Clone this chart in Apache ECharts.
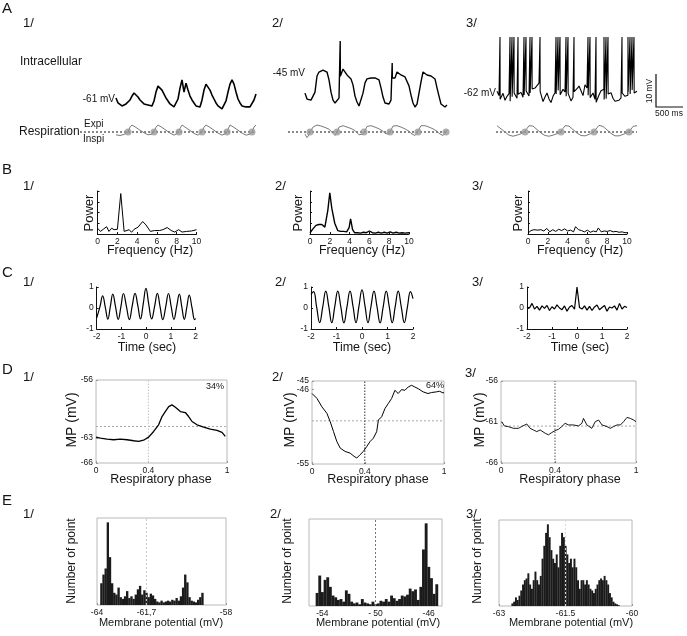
<!DOCTYPE html>
<html><head><meta charset="utf-8">
<script src="https://cdn.jsdelivr.net/npm/echarts@6.0.0/dist/echarts.min.js"></script>
<style>html,body{margin:0;padding:0;background:#fff}#c{width:687px;height:636px}</style>
</head><body><div id="c"></div>
<script>
// ===== DATA =====
// Row A: intracellular traces (mV), one sample per ~37 ms
const a1Trace = [-61.0,-62.5,-63.1,-63.4,-63.1,-62.8,-62.5,-61.6,-60.4,-59.5,
 -59.2,-60.7,-61.6,-62.2,-62.8,-63.4,-63.1,-63.7,-63.4,-61.9,
 -59.2,-57.4,-57.7,-58.6,-59.8,-61.0,-61.9,-62.8,-63.4,-63.7,
 -63.1,-61.3,-58.0,-55.5,-59.2,-56.5,-58.6,-60.4,-61.6,-62.5,
 -63.4,-64.0,-63.7,-61.6,-58.6,-56.8,-57.4,-58.6,-60.1,-61.3,
 -62.5,-63.4,-64.0,-64.3,-63.7,-61.9,-59.2,-56.8,-55.5,-56.8,
 -59.2,-61.3,-62.5,-63.4,-64.0,-63.7,-64.0,-63.7,-63.1,-61.6,
 -59.8];
const a2Trace = [-51.1,-52.9,-53.5,-53.2,-53.5,-50.8,-45.9,-44.7,-45.0,-44.1,
 -43.5,-44.7,-47.1,-50.8,-53.2,-54.1,-54.7,-52.6,-46.0,-43.8,
 -43.2,-45.6,-46.2,-46.8,-48.6,-52.0,-53.8,-55.0,-54.7,-51.1,
 -48.0,-46.8,-46.2,-46.5,-45.9,-46.5,-46.8,-47.1,-49.5,-52.3,
 -54.1,-54.7,-54.4,-53.2,-46.5,-46.5,-44.7,-45.3,-45.6,-45.9,
 -46.2,-46.8,-48.9,-51.7,-54.1,-55.3,-54.4,-51.1,-47.7,-44.7,
 -45.3,-45.6,-46.2,-45.9,-46.5,-46.8,-49.5,-52.0,-54.4,-55.0,
 -55.3,-54.7];
const a2SpikeTimes = [17.6, 43.6];
const a2SpikePeaks = [-35.3, -42.0];
const a3Trace = [-61.5,-62.8,-63.9,-62.1,-64.2,-63.0,-62.2,-64.5,-63.1,-62.0,
 -63.6,-62.4,-61.8,-63.3,-62.6,-61.4,-62.9,-62.0,-60.8,-60.5,
 -60.5,-59.0,-61.5,-64.6,-63.2,-62.0,-63.8,-64.9,-63.0,-61.9,
 -62.3,-61.2,-62.5,-60.9,-61.7,-63.0,-62.1,-64.4,-63.3,-61.6,
 -60.7,-59.9,-61.3,-62.8,-59.5,-60.5,-62.7,-63.4,-62.0,-63.9,
 -64.8,-62.6,-61.3,-60.9,-64.0,-63.7,-62.3,-61.9,-63.6,-64.5,
 -65.0,-64.2,-63.5,-62.0,-63.0,-62.7,-61.6,-62.3,-61.1,-62.0,
 -61.5];
const a3SpikeTimes = [1.5,6.5,7.5,8.5,10.5,13.5,14.5,16.5,17.5,21.5,29.5,30.5,31.5,34.5,35.5,38.5,45.5,46.5,49.5,53.5,54.5,55.5,62.5,65.5,66.5,67.5,68.5];
const a3SpikePeak = -45;
const aRefMv = [-61, -45, -62];
const aRefLabels = ['-61 mV', '-45 mV', '-62 mV'];

// Row A: respiration (arbitrary units, 0 = dotted line)
const resp1 = [-0.4,-0.45,-0.5,-0.45,-0.35,-0.2,0,0.7,1.0,0.85,
 0.65,0.45,0.25,0.1,-0.1,-0.25,-0.4,-0.45,-0.3,0,
 0.7,1.0,0.85,0.65,0.45,0.25,0.05,-0.15,-0.3,-0.45,
 -0.4,-0.15,0.5,1.0,0.8,0.6,0.4,0.2,0.0,-0.2,
 -0.35,-0.45,-0.35,0,0.7,1.0,0.85,0.65,0.45,0.25,
 0.05,-0.15,-0.3,-0.45,-0.45,-0.2,0.4,1.0,0.85,0.65,
 0.45,0.25,0.05,-0.15,-0.3,-0.45,-0.45,-0.3,0,0.7,
 1.0];
const resp2 = [-0.3,-0.8,-0.4,0.2,0.7,0.9,1.0,0.95,0.85,0.75,
 0.65,0.55,0.4,0.2,-0.2,-0.5,0,0.7,0.95,0.9,
 0.8,0.7,0.6,0.5,0.35,0.2,-0.1,-0.4,-0.5,-0.3,
 0.2,0.8,1.0,0.9,0.8,0.7,0.6,0.45,0.3,0.1,
 -0.2,-0.45,-0.3,0.3,0.85,1.0,0.9,0.8,0.7,0.6,
 0.45,0.3,0.1,-0.2,-0.45,-0.5,-0.2,0.4,0.9,1.0,
 0.9,0.8,0.7,0.6,0.45,0.3,0.1,-0.2,-0.45,-0.5,
 -0.2,0.3];
const resp3 = [0.9,0.7,0.45,0.2,0.0,-0.25,-0.45,-0.55,-0.6,-0.55,
 -0.45,-0.35,-0.25,-0.1,0.1,0.5,0.9,1.0,0.85,0.6,
 0.35,0.1,-0.15,-0.35,-0.5,-0.6,-0.6,-0.55,-0.45,-0.35,
 -0.25,-0.1,0.1,0.5,0.9,1.0,0.85,0.6,0.35,0.1,
 -0.15,-0.35,-0.5,-0.6,-0.55,-0.45,-0.35,-0.2,-0.05,0.2,
 0.6,0.95,1.0,0.8,0.55,0.3,0.05,-0.2,-0.4,-0.55,
 -0.6,-0.55,-0.45,-0.35,-0.25,-0.1,0.05,0.4,0.8,1.0,
 0.9];
const resp1Dots = [6, 19, 31.5, 43, 55.5, 68];
const resp2Dots = [2.5, 16, 29.5, 42.5, 56.5, 70.5];
const resp3Dots = [14, 32, 48.5, 66];

// Row B: power spectra
const b1Freq = [0,0.3,0.58,0.92,1.16,1.43,1.67,2.01,2.35,2.69,2.86,3.2,3.44,3.7,4.1,4.56,4.9,5.34,5.75,6.26,6.6,7.04,7.45,7.8,8.2,8.54,9.0,9.5,10.0];
const b1Power = [0.135,0.06,0.11,0.17,0.06,0.135,0.10,0.11,0.94,0.06,0.02,0.10,0.04,0.11,0.16,0.29,0.21,0.06,0.08,0.08,0.10,0.15,0.08,0.045,0.10,0.045,0.06,0.07,0.10];
const b2Freq = [0,0.3,0.6,0.9,1.2,1.5,1.8,2.0,2.2,2.5,2.8,3.1,3.4,3.7,3.95,4.1,4.3,4.5,4.8,5.1,5.4,5.7,6.0,6.3,6.6,6.9,7.2,7.5,7.8,8.1,8.4,8.7,9.0,9.3,9.6,10];
const b2Power = [0.03,0.12,0.2,0.22,0.22,0.16,0.55,0.96,0.6,0.25,0.08,0.06,0.06,0.05,0.15,0.35,0.1,0.03,0.03,0.02,0.04,0.03,0.07,0.03,0.02,0.04,0.02,0.04,0.02,0.05,0.02,0.04,0.02,0.03,0.02,0.03];
const b3Freq = [0,0.3,0.6,1.0,1.3,1.6,1.9,2.2,2.5,2.8,3.1,3.4,3.7,4.0,4.3,4.6,4.8,5.1,5.4,5.7,6.0,6.3,6.6,6.9,7.1,7.4,7.7,8.0,8.3,8.6,8.9,9.2,9.5,9.8,10];
const b3Power = [0.02,0.08,0.1,0.09,0.1,0.07,0.13,0.05,0.1,0.06,0.11,0.08,0.12,0.07,0.09,0.05,0.17,0.1,0.08,0.05,0.09,0.04,0.07,0.05,0.14,0.05,0.07,0.06,0.08,0.05,0.06,0.04,0.05,0.03,0.03];

// Row C: autocorrelograms
const c1Time = [-2.0,-1.87,-1.76,-1.65,-1.55,-1.45,-1.35,-1.24,-1.13,-1.02,-0.92,-0.80,-0.68,-0.57,-0.45,-0.34,-0.23,-0.12,-0.01,0.10,0.22,0.34,0.45,0.56,0.67,0.79,0.90,1.01,1.12,1.23,1.34,1.44,1.54,1.64,1.74,1.85,1.96,2.0];
const c1Val = [-0.47,0.05,0.58,0.02,-0.53,0.06,0.66,0.07,-0.54,0.08,0.69,0.08,-0.55,0.07,0.70,0.12,-0.52,0.20,0.93,0.20,-0.52,0.08,0.70,0.07,-0.55,0.07,0.69,0.06,-0.54,0.06,0.66,0.04,-0.54,0.03,0.61,0.02,-0.55,-0.5];
const c2Time = [-2.0,-1.90,-1.78,-1.66,-1.54,-1.42,-1.30,-1.185,-1.07,-0.95,-0.83,-0.71,-0.59,-0.47,-0.35,-0.235,-0.12,0,0.12,0.235,0.35,0.47,0.59,0.71,0.83,0.95,1.07,1.185,1.30,1.42,1.54,1.66,1.78,1.90,2.0];
const c2Val = [0.65,0.78,0.05,-0.70,0.05,0.80,0.05,-0.70,0.05,0.80,0.05,-0.71,0.05,0.80,0.06,-0.70,0.08,0.86,0.08,-0.70,0.06,0.80,0.05,-0.71,0.05,0.80,0.05,-0.70,0.05,0.80,0.05,-0.70,0.04,0.78,0.45];
const c3Start = -2, c3Step = 0.1;
const c3Val = [0.05,0.0,0.22,-0.05,0.08,-0.1,0.1,-0.02,0.12,-0.12,0.06,-0.05,0.15,0.0,-0.08,0.1,-0.15,0.05,0.12,-0.06,1.0,0.02,-0.05,0.1,-0.1,0.08,-0.12,0.05,0.14,-0.08,0.02,0.12,-0.15,0.05,0.0,0.1,-0.1,0.22,-0.05,0.08,0.02];

// Row D: membrane potential vs respiratory phase
const d1Phase = [0,0.033,0.084,0.135,0.186,0.237,0.288,0.326,0.369,0.402,0.44,0.478,0.504,0.529,0.555,0.58,0.606,0.644,0.682,0.707,0.733,0.771,0.822,0.873,0.924,0.962,0.987];
const d1Mp = [-62.88,-63.0,-63.12,-63.2,-63.12,-63.2,-63.32,-63.4,-63.2,-62.88,-62.2,-61.4,-60.4,-59.8,-59.2,-59.0,-59.28,-59.8,-59.92,-60.4,-61.0,-61.4,-61.68,-61.92,-62.08,-62.32,-62.8];
const d2Phase = [0,0.038,0.075,0.113,0.138,0.163,0.188,0.214,0.251,0.289,0.319,0.339,0.364,0.389,0.415,0.44,0.465,0.49,0.503,0.528,0.553,0.578,0.603,0.628,0.653,0.678,0.704,0.729,0.754,0.779,0.804,0.842,0.879,0.905,0.942,0.967,0.992,1.0];
const d2Mp = [-46.5,-47.11,-48.11,-48.9,-49.9,-51.1,-52.29,-53.09,-53.49,-53.69,-54.08,-54.28,-53.88,-53.49,-52.89,-52.29,-51.89,-51.1,-49.7,-49.3,-48.31,-47.71,-47.11,-46.12,-46.51,-46.04,-46.12,-45.72,-45.52,-45.72,-45.92,-46.31,-46.51,-46.39,-46.31,-46.24,-46.43,-46.4];
const d3Phase = [0.005,0.025,0.054,0.092,0.129,0.153,0.191,0.215,0.24,0.265,0.29,0.327,0.351,0.376,0.401,0.426,0.45,0.475,0.5,0.537,0.574,0.599,0.611,0.636,0.673,0.698,0.723,0.748,0.785,0.809,0.834,0.859,0.884,0.908,0.933,0.958,0.983,1.0];
const d3Mp = [-60.96,-61.48,-61.56,-61.77,-61.77,-61.56,-61.24,-61.77,-61.97,-62.17,-61.97,-62.37,-62.57,-62.29,-62.05,-61.89,-61.56,-61.16,-61.36,-61.36,-61.48,-61.16,-60.56,-61.36,-61.77,-60.96,-60.76,-61.36,-61.56,-61.77,-61.56,-61.36,-61.36,-60.96,-60.44,-60.56,-60.76,-60.96];
const dMeans = [-61.6, -49.8, -61.5];
const dPercent = ['34%', '64%'];
const dPhaseMark = 0.4;
const dRanges = [[-66,-56],[-55,-45],[-66,-56]];
const dYTicks = [[-66,-63,-56],[-55,-45],[-66,-61,-56]];
const dYExtraTicks = [[], [-46], []];
const dXTicks = [0, 0.4, 1];

// Row E: membrane potential histograms
const e1Start = -63.8, e1Bin = 0.1;
const e1Counts = [25,35,42,95,55,25,14,12,20,9, 7,10,16,8,10,7,12,18,22,12, 17,14,9,13,11,7,4,3,5,3, 4,5,4,6,5,8,5,10,20,35, 26,9,5,4,3,6,9,14];
const e2Start = -54.4, e2Bin = 0.2;
const e2Counts = [15,35,16,30,33,22,12,10,7,8, 5,18,14,5,3,4,2,8,4,3, 2,5,2,3,6,5,8,5,12,9, 6,8,12,11,13,20,17,19,7,22, 65,95,45,32,14,25];
const e3Start = -62.7, e3Bin = 0.04;
const e3Counts = [3,5,10,7,12,18,25,30,32,38, 25,20,30,40,30,25,35,55,70,85, 95,80,65,55,50,60,45,70,85,80, 70,60,50,55,45,55,45,30,20,30, 30,25,30,25,20,18,15,20,25,30, 32,30,35,30,25,15,10,5,3,2, 1];
const eMeans = [-61.7, -50, -61.5];
const eRanges = [[-64,-58],[-55,-45],[-63,-60]];
const eTicks = [[-64,-61.7,-58],[-54,-50,-46],[-63,-61.5,-60]];
const eTickText = [['-64','-61,7','-58'],['-54','- 50','-46'],['-63','-61.5','-60']];

// ===== BUILD =====
const FONT = '"Liberation Sans", Arial, Helvetica, sans-serif';
const INK = '#151515';
const grids = [], xAxes = [], yAxes = [], series = [], gfx = [];

// returns {g, x, y}: indices of the grid and of its axes
function addGrid(rect, xa, ya) {
  const ax = {g: grids.length, x: xAxes.length, y: yAxes.length};
  grids.push(Object.assign({containLabel: false}, rect));
  xAxes.push(Object.assign({gridIndex: ax.g, splitLine: {show: false}}, xa));
  yAxes.push(Object.assign({gridIndex: ax.g, splitLine: {show: false}}, ya));
  return ax;
}
function line(ax, data, style, extra) {
  series.push(Object.assign({type: 'line', xAxisIndex: ax.x, yAxisIndex: ax.y, data: data,
    symbol: 'none', showSymbol: false, lineStyle: style, silent: true, animation: false, z: 3}, extra || {}));
}
function txt(s, x, y, size, opt) {
  opt = opt || {};
  gfx.push({type: 'text', x: x, y: y, rotation: opt.rot || 0, silent: true, z: 10,
    style: {text: s, fontSize: size, fontFamily: FONT, fill: opt.color || INK,
      align: opt.align || 'center', verticalAlign: 'middle'}});
}
const idx = arr => arr.map((v, i) => [i, v]);
const zip = (xs, ys) => xs.map((x, i) => [x, ys[i]]);
// merge spikes into a sampled trace: each spike leaves from the sample before and returns to the sample after
function withSpikes(trace, times, peaks) {
  const pts = idx(trace);
  times.forEach((t, j) => {
    const a = Math.floor(t), b = Math.ceil(t);
    pts.push([t - 0.07, trace[a]], [t, peaks[j]], [t + 0.07, trace[b]]);
  });
  return pts.sort((p, q) => p[0] - q[0]);
}

// ---- Row A ----
const PXMV = 3.3;
const aTrace = [idx(a1Trace), withSpikes(a2Trace, a2SpikeTimes, a2SpikePeaks),
  withSpikes(a3Trace, a3SpikeTimes, a3SpikeTimes.map(() => a3SpikePeak))];
const aRect = [{left: 116, width: 140, refY: 98, n: 70}, {left: 305, width: 142, refY: 73, n: 71}, {left: 497, width: 140, refY: 93, n: 70}];
const aWidth = [1.6, 1.4, 1.1];
const aTop = 30, aH = 90;
aRect.forEach((r, k) => {
  const ymax = aRefMv[k] + (r.refY - aTop) / PXMV;
  const ymin = aRefMv[k] - (aTop + aH - r.refY) / PXMV;
  const ax = addGrid({left: r.left, width: r.width, top: aTop, height: aH},
    {type: 'value', min: 0, max: r.n, show: false},
    {type: 'value', min: ymin, max: ymax, show: false});
  line(ax, aTrace[k], {color: '#000', width: aWidth[k]});
});
// respiration
const resp = [resp1, resp2, resp3], respDots = [resp1Dots, resp2Dots, resp3Dots];
const rRect = [{left: 80, width: 176, min: -18, max: 70}, {left: 288, width: 159, min: -8.5, max: 71}, {left: 496, width: 141, min: -0.5, max: 70}];
rRect.forEach((r, k) => {
  const ax = addGrid({left: r.left, width: r.width, top: 118, height: 24},
    {type: 'value', min: r.min, max: r.max, show: false},
    {type: 'value', min: -10 / 7, max: 2, show: false});
  line(ax, [[r.min, 0], [r.max, 0]], {color: '#111', width: 1, type: [2, 2]});
  line(ax, idx(resp[k]), {color: '#7a7a7a', width: 1});
  series.push({type: 'scatter', xAxisIndex: ax.x, yAxisIndex: ax.y, data: respDots[k].map(t => [t, 0]),
    symbolSize: 7, itemStyle: {color: '#9a9a9a'}, silent: true, animation: false, z: 4});
});

// ---- Row B ----
const bFreq = [b1Freq, b2Freq, b3Freq], bPow = [b1Power, b2Power, b3Power];
const bLeft = [97.5, 310, 528];
const bW = [1, 1.4, 1];
const axisBlack = {show: true, onZero: false, lineStyle: {color: '#111', width: 1}};
const tickLbl = {fontSize: 8.5, color: INK, fontFamily: FONT, margin: 3, showMinLabel: true, showMaxLabel: true, hideOverlap: false};
bLeft.forEach((L, k) => {
  const ax = addGrid({left: L, width: 99, top: 191, height: 43},
    {type: 'value', min: 0, max: 10, interval: 2, axisLine: axisBlack,
      axisTick: {show: true, inside: true, length: 2, lineStyle: {color: '#111'}}, axisLabel: tickLbl},
    {type: 'value', min: 0, max: 1, interval: 0.25, axisLine: axisBlack,
      axisTick: {show: true, inside: true, length: 2, lineStyle: {color: '#111'}}, axisLabel: {show: false}});
  line(ax, zip(bFreq[k], bPow[k]), {color: '#000', width: bW[k]});
});

// ---- Row C ----
const cData = [zip(c1Time, c1Val), zip(c2Time, c2Val), c3Val.map((v, i) => [c3Start + i * c3Step, v])];
const cLeft = [96.7, 311, 527], cWidth = [99, 102, 100];
cLeft.forEach((L, k) => {
  const ax = addGrid({left: L, width: cWidth[k], top: 287, height: 42},
    {type: 'value', min: -2, max: 2, interval: 1, axisLine: axisBlack,
      axisTick: {show: true, inside: true, length: 2, lineStyle: {color: '#111'}}, axisLabel: tickLbl},
    {type: 'value', min: -1, max: 1, interval: 1, axisLine: axisBlack,
      axisTick: {show: true, inside: true, length: 2, lineStyle: {color: '#111'}}, axisLabel: tickLbl});
  line(ax, cData[k], {color: '#000', width: 1.2}, k < 2 ? {smooth: 0.45} : {});
});

// ---- Row D ----
const dData = [zip(d1Phase, d1Mp), zip(d2Phase, d2Mp), zip(d3Phase, d3Mp)];
const dRect = [{left: 96, width: 131, top: 380, height: 83}, {left: 312, width: 132, top: 381, height: 83}, {left: 501, width: 135, top: 381, height: 82}];
const dVColor = ['#c4c4c4', '#333', '#555'];
const dLineW = [1.3, 1, 0.9];
dRect.forEach((r, k) => {
  const ax = addGrid(Object.assign({show: true, borderColor: '#b8b8b8', borderWidth: 1}, r),
    {type: 'value', min: 0, max: 1, axisLine: {show: false},
      axisTick: {show: true, inside: true, length: 2, customValues: dXTicks, lineStyle: {color: '#999'}},
      axisLabel: Object.assign({}, tickLbl, {customValues: dXTicks, formatter: v => String(+v.toFixed(2))})},
    {type: 'value', min: dRanges[k][0], max: dRanges[k][1], position: 'left', axisLine: {show: false},
      axisTick: {show: true, inside: true, length: 2, customValues: dYTicks[k], lineStyle: {color: '#999'}},
      axisLabel: Object.assign({}, tickLbl, {customValues: dYTicks[k], formatter: v => String(Math.round(v))})});
  if (dYExtraTicks[k].length) {
    // second label track on the same grid so close ticks are not hidden by overlap rules
    yAxes.push({gridIndex: ax.g, type: 'value', min: dRanges[k][0], max: dRanges[k][1], position: 'left',
      axisLine: {show: false}, splitLine: {show: false},
      axisTick: {show: true, inside: true, length: 2, customValues: dYExtraTicks[k], lineStyle: {color: '#999'}},
      axisLabel: Object.assign({}, tickLbl, {customValues: dYExtraTicks[k], formatter: v => String(Math.round(v))})});
  }
  line(ax, [[0, dMeans[k]], [1, dMeans[k]]], {color: '#aaa', width: 1, type: [2, 2]}, {z: 2});
  line(ax, [[dPhaseMark, dRanges[k][0]], [dPhaseMark, dRanges[k][1]]], {color: dVColor[k], width: 1, type: [1.5, 1.5]}, {z: 2});
  line(ax, dData[k], {color: '#000', width: dLineW[k]});
});

// ---- Row E ----
const eBins = [[e1Start, e1Bin, e1Counts], [e2Start, e2Bin, e2Counts], [e3Start, e3Bin, e3Counts]];
const eRect = [{left: 97, width: 129, top: 518, height: 87}, {left: 309, width: 133, top: 519, height: 87}, {left: 499, width: 133, top: 520, height: 86}];
const eVColor = ['#c8c8c8', '#777', '#d8d8d8'];
eRect.forEach((r, k) => {
  const ticks = eTicks[k], labels = eTickText[k];
  const ax = addGrid(Object.assign({show: true, borderColor: '#b8b8b8', borderWidth: 1}, r),
    {type: 'value', min: eRanges[k][0], max: eRanges[k][1], axisLine: {show: false},
      axisTick: {show: true, inside: true, length: 2, customValues: ticks, lineStyle: {color: '#999'}},
      axisLabel: Object.assign({}, tickLbl, {customValues: ticks, formatter: v => {
        let best = 0; ticks.forEach((t, i) => { if (Math.abs(t - v) < Math.abs(ticks[best] - v)) best = i; }); return labels[best]; }})},
    {type: 'value', min: 0, max: 100, axisLine: {show: false}, axisTick: {show: false}, axisLabel: {show: false}});
  const [start, bw, counts] = eBins[k];
  series.push({type: 'custom', xAxisIndex: ax.x, yAxisIndex: ax.y, silent: true, animation: false, z: 3,
    data: counts.map((c, i) => [start + i * bw, c]), encode: {x: 0, y: 1},
    renderItem: (params, api) => {
      const x = api.value(0), h = api.value(1);
      const p0 = api.coord([x - bw / 2, 0]), p1 = api.coord([x + bw / 2, h]);
      return {type: 'rect', shape: {x: p0[0], y: p1[1], width: Math.max(p1[0] - p0[0] + 0.2, 1), height: p0[1] - p1[1]},
        style: {fill: '#1b1b1b'}};
    }});
  line(ax, [[eMeans[k], 0], [eMeans[k], 100]], {color: eVColor[k], width: 1, type: [2, 2]}, {z: 5});
});

// ---- Texts ----
[['A', 9], ['B', 170], ['C', 273], ['D', 370], ['E', 501]].forEach(([s, y]) => txt(s, 2, y, 15, {align: 'left'}));
const subRows = [[23, [23, 272, 466]], [186, [23, 275, 472]], [282, [23, 275, 472]], [377, [23, 272, 465]], [514, [23, 270, 466]]];
subRows.forEach(([y, xs]) => xs.forEach((x, k) => txt((k + 1) + '/', x, (y === 377 && k === 2) ? 373 : y, 13, {align: 'left'})));
txt('Intracellular', 20, 62, 12, {align: 'left'});
txt('Respiration', 19, 132, 12, {align: 'left'});
txt('Expi', 84, 124, 10, {align: 'left'});
txt('Inspi', 83, 139.5, 10, {align: 'left'});
[[115, 99], [305, 73], [496, 93]].forEach(([x, y], k) => txt(aRefLabels[k], x, y, 10, {align: 'right'}));
// scale bar
gfx.push({type: 'polyline', silent: true, shape: {points: [[656, 74], [656, 107], [683, 107]]}, style: {stroke: '#111', lineWidth: 1.2, fill: null}});
txt('10 mV', 650, 91, 8.5, {rot: Math.PI / 2});
txt('500 ms', 669, 114, 8.5);
// B
[89, 298, 518].forEach(x => txt('Power', x, 213, 13, {rot: Math.PI / 2}));
[150, 362, 580].forEach(x => txt('Frequency (Hz)', x, 251, 12.5));
// C
[147, 362, 580].forEach(x => txt('Time (sec)', x, 348, 12.5));
// D
[72.5, 290, 480].forEach(x => txt('MP (mV)', x, 420, 14, {rot: Math.PI / 2}));
[161, 378, 570].forEach(x => txt('Respiratory phase', x, 479.5, 12.5));
txt(dPercent[0], 215, 387, 9); txt(dPercent[1], 435, 386, 9);
// E
[72, 288, 478].forEach(x => txt('Number of point', x, 561, 12, {rot: Math.PI / 2}));
[161, 378, 571].forEach(x => txt('Membrane potential (mV)', x, 623, 11));

const chart = echarts.init(document.getElementById('c'), null, {renderer: 'canvas'});
chart.setOption({animation: false, backgroundColor: '#fff', grid: grids, xAxis: xAxes, yAxis: yAxes, series: series, graphic: gfx});
</script></body></html>
